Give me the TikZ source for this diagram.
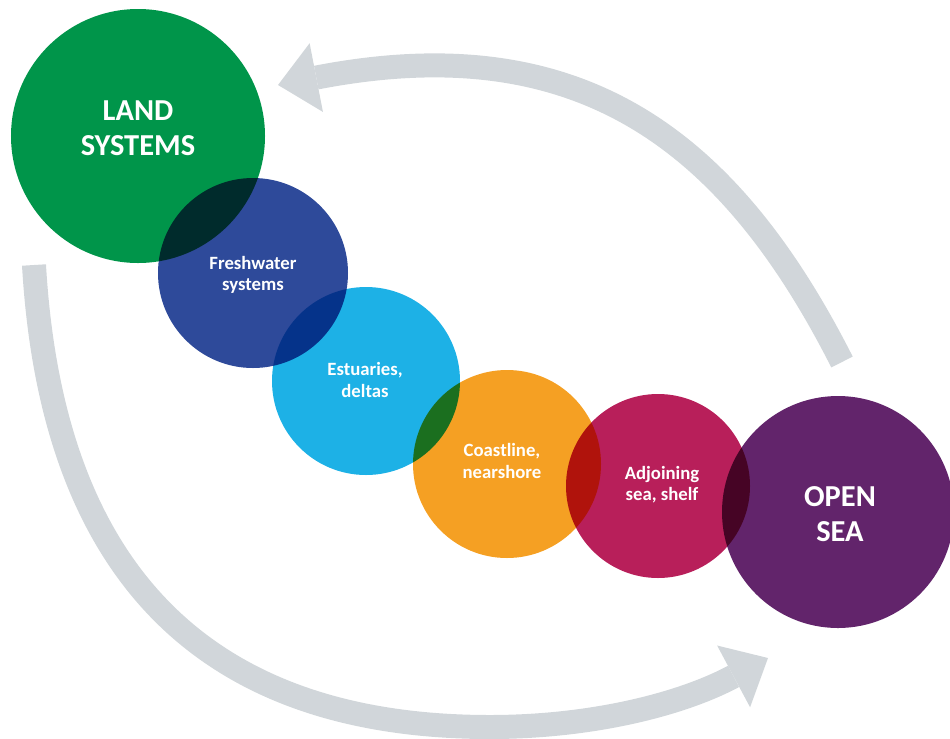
\documentclass[tikz,border=0pt]{standalone}
\usepackage{fontspec}
\setmainfont{Carlito}
\usetikzlibrary{arrows.meta}

\definecolor{landgreen}{RGB}{0,149,74}
\definecolor{freshblue}{RGB}{46,74,154}
\definecolor{estublue}{RGB}{29,177,230}
\definecolor{coastorange}{RGB}{245,160,35}
\definecolor{shelfred}{RGB}{184,31,90}
\definecolor{seapurple}{RGB}{98,36,107}
\definecolor{flowgrey}{RGB}{209,214,218}

\begin{document}
\begin{tikzpicture}[%
        x=0.3mm, y=-0.3mm,
        zone/.style={circle, fill=#1, draw=none, inner sep=0pt},
        big/.style={text=white, align=center, font=\bfseries\fontsize{26}{30}\selectfont},
        small/.style={text=white, align=center, font=\bfseries\fontsize{16}{18}\selectfont},
        flow/.style={draw=flowgrey, line width=7.2mm, line cap=butt,
            -{Triangle[length=11.7mm, width=21mm, line width=0pt]}}
        ]
            \useasboundingbox (0,0) rectangle (950,738);

            % Kreise
            \begin{scope}[blend mode=multiply]
                \node[zone=landgreen,   minimum size=76.2mm] (land)  at (138,136) {};
                \node[zone=freshblue,   minimum size=57mm]   (fresh) at (253,273) {};
                \node[zone=estublue,    minimum size=56.4mm] (estu)  at (366,381) {};
                \node[zone=coastorange, minimum size=56.4mm] (coast) at (507,464) {};
                \node[zone=shelfred,    minimum size=55.2mm] (shelf) at (658,486) {};
                \node[zone=seapurple,   minimum size=69.6mm] (sea)   at (838,512) {};
            \end{scope}

            % Beschriftung
            \node[big]   (landtxt)  at (138,128) {LAND\\SYSTEMS};
            \node[small] (freshtxt) at (253,275) {Freshwater\\systems};
            \node[small] (estutxt)  at (365,380) {Estuaries,\\deltas};
            \node[small] (coasttxt) at (502,461) {Coastline,\\nearshore};
            \node[small] (shelftxt) at (662,485) {Adjoining\\sea, shelf};
            \node[big]   (seatxt)   at (840,514) {OPEN\\SEA};

            % Pfeile
            \coordinate (toptail) at (842,362);
            \coordinate (toptip)  at (278,85);
            \coordinate (bottail) at (34,265);
            \coordinate (botlow)  at (490,727);
            \coordinate (bottip)  at (768,658);

            \draw[flow] (toptail) .. controls (725,131) and (572,28) .. (toptip);
            \draw[flow] (bottail) .. controls (52,575) and (207,727) .. (botlow)
                                  .. controls (590,727) and (680,705) .. (bottip);

        \end{tikzpicture}
\end{document}
